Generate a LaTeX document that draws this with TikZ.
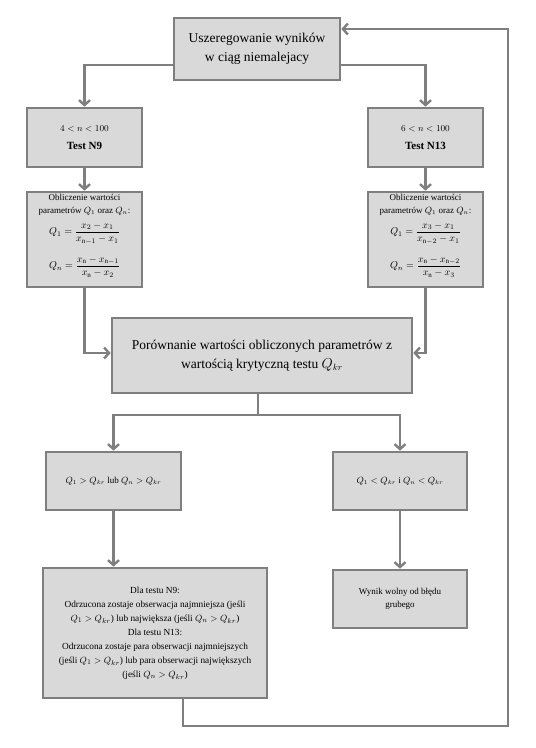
\documentclass[tikz,border=0pt]{standalone}
\usepackage{amsmath}
\usepackage{fontspec}
\setmainfont{Liberation Serif}
\usetikzlibrary{arrows.meta,calc}
\definecolor{lg}{HTML}{7F7F7F}
\definecolor{bg}{HTML}{D9D9D9}
\begin{document}
\begin{tikzpicture}[x=1pt,y=-1pt,
  box/.style={draw=lg,fill=bg,line width=2.6pt,align=center,inner sep=1pt,text=black},
  big/.style={font=\fontsize{13.5}{19}\selectfont},
  small/.style={font=\fontsize{9}{13}\selectfont},
  conn/.style={draw=lg,line width=2.6pt},
  arr/.style={conn,-{Straight Barb[length=5pt,width=11pt,line width=2.4pt]}}]
\useasboundingbox (0,0) rectangle (536,748);
\node[box,big,minimum width=166pt,minimum height=62pt] (top) at (257,49) {Uszeregowanie wyników\\w ciąg niemalejacy};
\node[box,small,minimum width=115pt,minimum height=59pt] (n9) at (84.5,137.5) {$4<n<100$\\[5pt]{\fontsize{11}{13}\selectfont\bfseries Test N9}};
\node[box,small,minimum width=115pt,minimum height=59pt] (n13) at (425.5,137.5) {$6<n<100$\\[5pt]{\fontsize{11}{13}\selectfont\bfseries Test N13}};
\node[box,small,minimum width=115pt,minimum height=95pt] (c9) at (84.5,239.5) {Obliczenie wartości\\parametrów $Q_1$ oraz $Q_n$:\\[6pt]
{\fontsize{10}{13}\selectfont$Q_1=\dfrac{x_2-x_1}{x_{\mathrm{n}-1}-x_1}$}\\[11pt]
{\fontsize{10}{13}\selectfont$Q_n=\dfrac{x_{\mathrm{n}}-x_{\mathrm{n}-1}}{x_{\mathrm{n}}-x_2}$}\\[3pt]};
\node[box,small,minimum width=115pt,minimum height=95pt] (c13) at (425.5,239.5) {Obliczenie wartości\\parametrów $Q_1$ oraz $Q_n$:\\[6pt]
{\fontsize{10}{13}\selectfont$Q_1=\dfrac{x_3-x_1}{x_{\mathrm{n}-2}-x_1}$}\\[11pt]
{\fontsize{10}{13}\selectfont$Q_n=\dfrac{x_{\mathrm{n}}-x_{\mathrm{n}-2}}{x_{\mathrm{n}}-x_3}$}\\[3pt]};
\node[box,big,minimum width=300pt,minimum height=75pt] (cmp) at (262,355.5) {Porównanie wartości obliczonych parametrów z\\wartością krytyczną testu $Q_{kr}$};
\node[box,small,minimum width=135pt,minimum height=58pt] (l1) at (113.5,481) {$Q_1>Q_{kr}$ lub $Q_n>Q_{kr}$};
\node[box,small,minimum width=134pt,minimum height=58pt] (r1) at (400,481) {$Q_1<Q_{kr}$ i $Q_n<Q_{kr}$};
\node[box,font=\fontsize{9.3}{14}\selectfont,minimum width=224pt,minimum height=130pt] (l2) at (155,633) {Dla testu N9:\\Odrzucona zostaje obserwacja najmniejsza (jeśli\\$Q_1>Q_{kr}$) lub największa (jeśli $Q_n>Q_{kr}$)\\Dla testu N13:\\Odrzucona zostaje para obserwacji najmniejszych\\(jeśli $Q_1>Q_{kr}$) lub para obserwacji największych\\(jeśli $Q_n>Q_{kr}$)};
\node[box,small,minimum width=134pt,minimum height=58pt] (r2) at (400,599) {Wynik wolny od błędu\\grubego};
\coordinate (split) at (258,415);
\coordinate (ret1) at (183,726);
\coordinate (ret2) at (508,726);
\coordinate (ret3) at (508,29);
\draw[arr] (top.west |- 0,65) -| (n9.north);
\draw[arr] (top.east |- 0,65) -| (n13.north);
\draw[arr] (n9) -- (c9);
\draw[arr] (n13) -- (c13);
\draw[arr] (c9.south) |- (cmp.west |- 0,353);
\draw[arr] (c13.south) |- (cmp.east |- 0,353);
\draw[conn] (cmp.south -| split) -- (split);
\draw[arr] (split) -| (l1.north);
\draw[arr] (split) -| (r1.north);
\draw[arr] (l1.south) -- (l1.south |- l2.north);
\draw[arr] (r1) -- (r2);
\draw[arr,line join=miter] (l2.south -| ret1) -- (ret1) -- (ret2) -- (ret3) -- (top.east |- ret3);
\end{tikzpicture}
\end{document}
